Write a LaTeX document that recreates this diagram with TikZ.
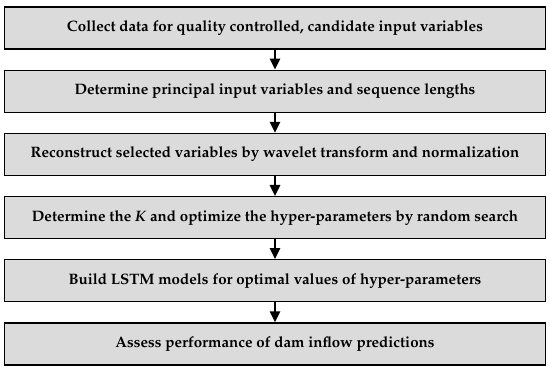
\documentclass[tikz,border=0pt]{standalone}
\usepackage[T1]{fontenc}
\usepackage{mathpazo}
\usepackage{tikz}
\usetikzlibrary{positioning}
\usetikzlibrary{arrows.meta}

\begin{document}
\begin{tikzpicture}[x=1pt,y=1pt,node distance=20pt,
    stepbox/.style={draw=black,line width=1.2pt,fill=black!14,minimum width=541pt,
        minimum height=42pt,inner sep=0pt,font=\fontsize{15.1}{17}\selectfont\bfseries},
    flow/.style={-{Triangle[length=11pt,width=10pt]},line width=2.5pt}]
        \useasboundingbox (0,0) rectangle (550,-366);
        \node[stepbox] (collect) at (275,-28) {Collect data for quality controlled, candidate input variables};
        \node[stepbox] (select) [below=of collect] {Determine principal input variables and sequence lengths};
        \node[stepbox] (wavelet) [below=of select] {Reconstruct selected variables by wavelet transform and normalization};
        \node[stepbox] (tune) [below=of wavelet] {Determine the \textit{K} and optimize the hyper-parameters by random search};
        \node[stepbox] (build) [below=of tune] {Build LSTM models for optimal values of hyper-parameters};
        \node[stepbox] (assess) [below=of build] {Assess performance of dam inflow predictions};
        \draw[flow] (collect) -- (select);
        \draw[flow] (select) -- (wavelet);
        \draw[flow] (wavelet) -- (tune);
        \draw[flow] (tune) -- (build);
        \draw[flow] (build) -- (assess);
    \end{tikzpicture}
\end{document}
